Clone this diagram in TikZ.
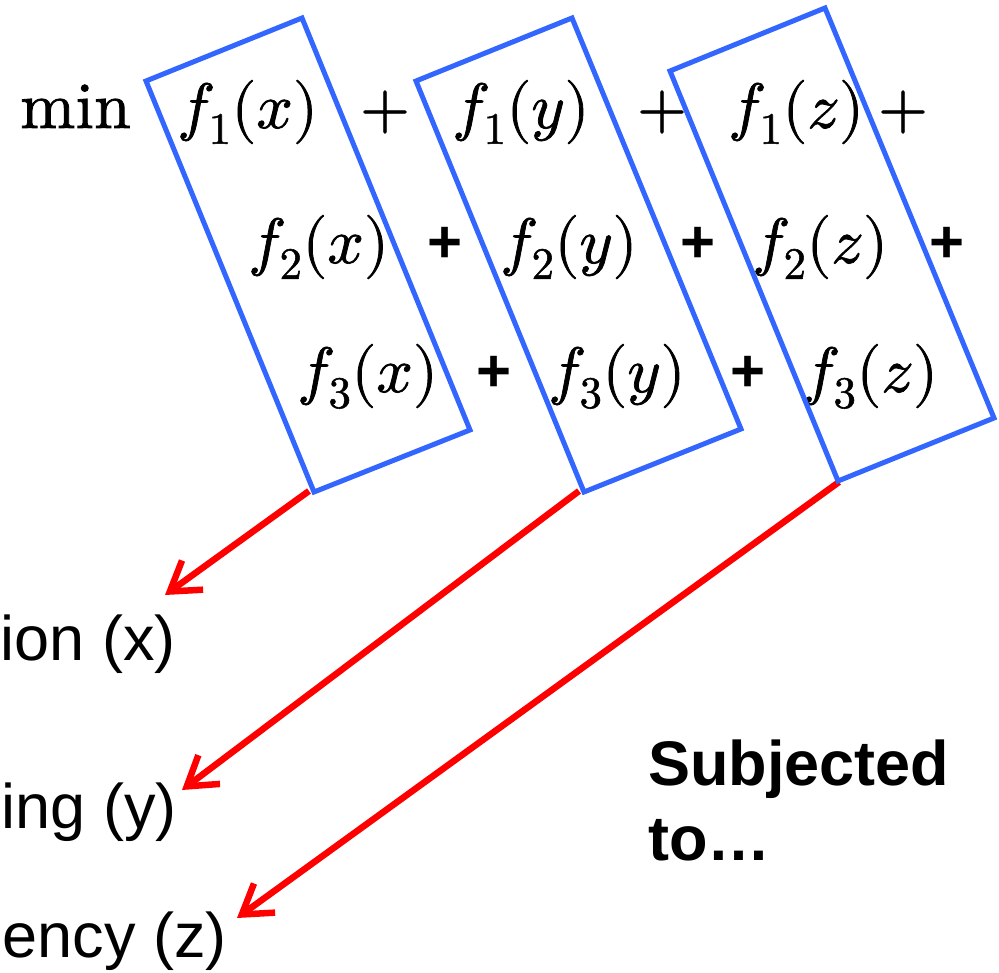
\documentclass[tikz,border=0pt]{standalone}
\usepackage{fontspec}
\usepackage{unicode-math}
\setmathfont{Latin Modern Math}[FakeBold=1.2]
\newfontfamily\arial{Liberation Sans}
\usetikzlibrary{arrows.meta}
\definecolor{boxblue}{RGB}{51,102,255}
\begin{document}
\begin{tikzpicture}[x=1pt,y=-1pt,
  mth/.style={anchor=base west, inner sep=0pt, font=\fontsize{64}{66}\selectfont},
  mplus/.style={anchor=base, inner sep=0pt, font=\fontsize{64}{66}\selectfont},
  bplus/.style={anchor=base, inner sep=0pt, font=\arial\bfseries\fontsize{60}{60}\selectfont},
  lab/.style={anchor=base east, inner sep=0pt, font=\arial\fontsize{63}{70}\selectfont},
  subj/.style={anchor=base west, inner sep=0pt, font=\arial\bfseries\fontsize{63}{70}\selectfont},
  boxline/.style={draw=boxblue, line width=5pt, line join=miter},
  redarrow/.style={draw=red, line width=6.5pt, -{Straight Barb[length=28pt,width=36pt]}}]
\useasboundingbox (0,0) rectangle (999,973);

% row 1
\node[mth, font=\fontsize{66}{68}\selectfont] (min) at (20,128) {$\symup{min}$};
\node[mth] (f1x) at (177,128) {$f_1(x)$};
\node[mplus] (p11) at (385,128) {$+$};
\node[mth] (f1y) at (452,128) {$f_1(y)$};
\node[mplus] (p12) at (662,128) {$+$};
\node[mth] (f1z) at (728,128) {$f_1(z)$};
\node[mplus] (p13) at (903,128) {$+$};
% row 2
\node[mth] (f2x) at (248,263) {$f_2(x)$};
\node[bplus] (p21) at (445,263) {+};
\node[mth] (f2y) at (500,263) {$f_2(y)$};
\node[bplus] (p22) at (698,263) {+};
\node[mth] (f2z) at (752,263) {$f_2(z)$};
\node[bplus] (p23) at (947,263) {+};
% row 3
\node[mth] (f3x) at (297,392) {$f_3(x)$};
\node[bplus] (p31) at (494,392) {+};
\node[mth] (f3y) at (548,392) {$f_3(y)$};
\node[bplus] (p32) at (748,392) {+};
\node[mth] (f3z) at (802,392) {$f_3(z)$};

% labels
\node[lab] (lx) at (176,660) {ion (x)};
\node[lab] (ly) at (177,828) {ing (y)};
\node[lab] (lz) at (227,957) {ency (z)};
\node[subj] (subj) at (648,785) {Subjected};
\node[subj] (to) at (648,860) {to…};

% arrow ends
\coordinate (s1) at (309,491);
\coordinate (s2) at (579,491);
\coordinate (s3) at (839,482);
\coordinate (t1) at (165,595);
\coordinate (t2) at (182,790);
\coordinate (t3) at (237,918);
\draw[redarrow] (s1) -- (t1);
\draw[redarrow] (s2) -- (t2);
\draw[redarrow] (s3) -- (t3);

% boxes
\draw[boxline] (146,81) -- (302,18) -- (470,430) -- (314,492) -- cycle;
\draw[boxline] (416,81) -- (572,18) -- (741,429) -- (584,492) -- cycle;
\draw[boxline] (670,71) -- (825,8) -- (994,418) -- (838,481) -- cycle;
\end{tikzpicture}
\end{document}
